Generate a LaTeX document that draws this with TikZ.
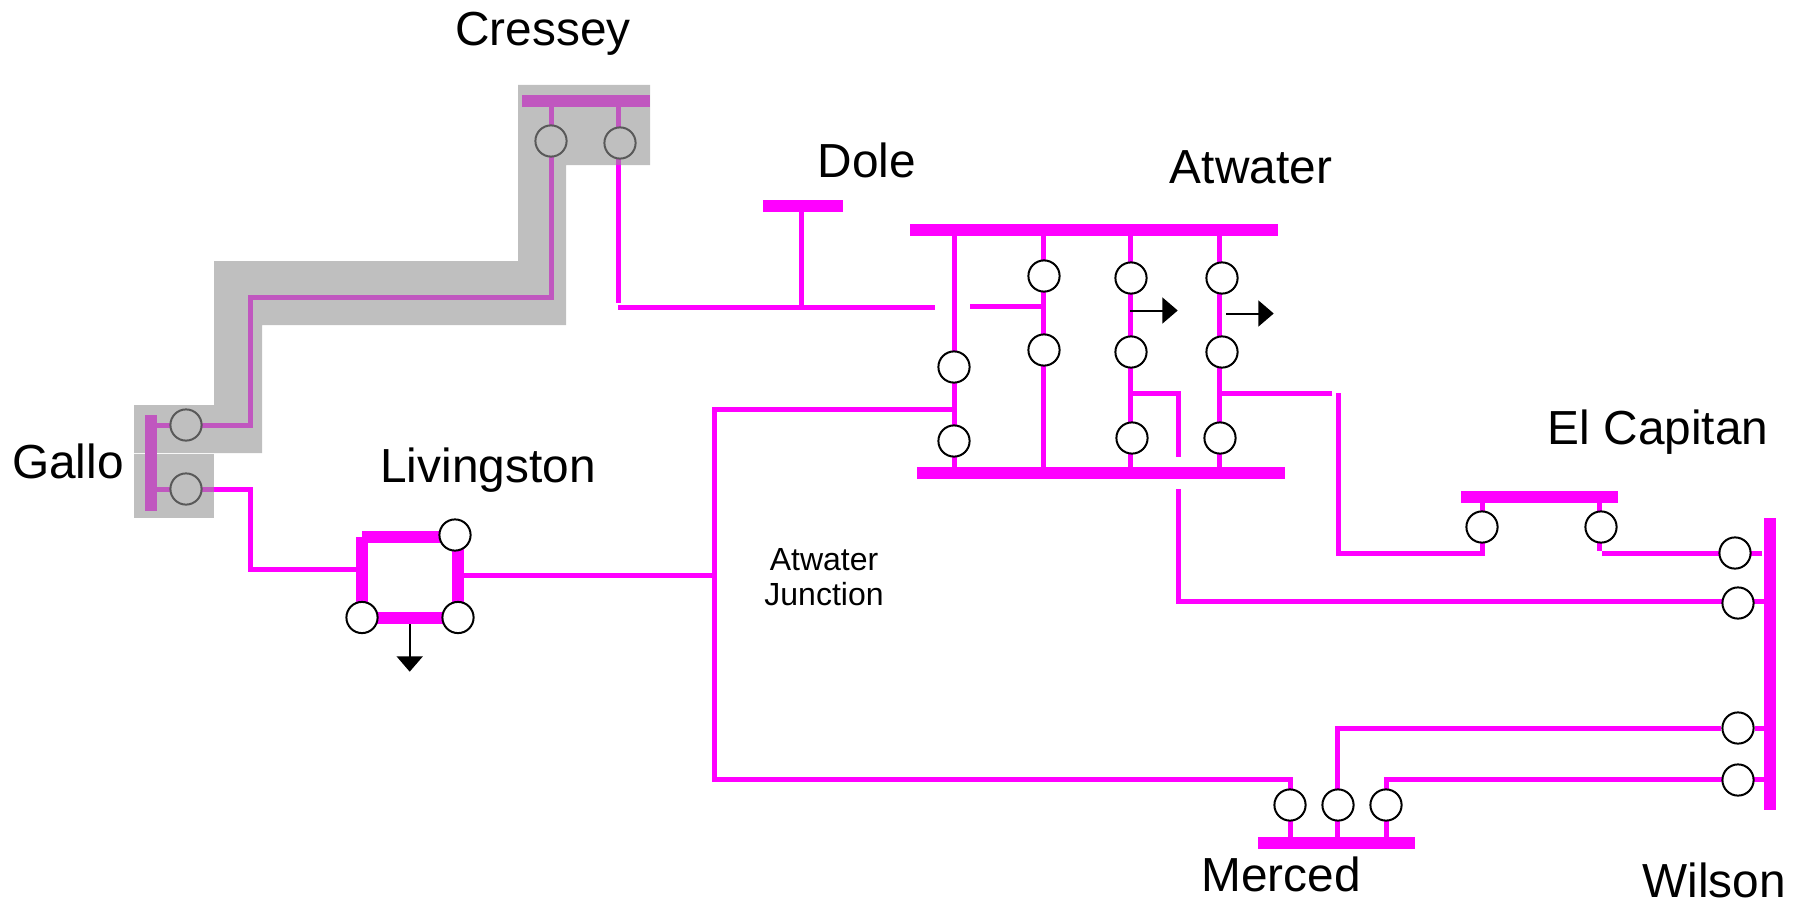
\documentclass[tikz,border=0pt]{standalone}
\usepackage{fontspec}
\setmainfont{Liberation Sans}
\usetikzlibrary{arrows.meta,backgrounds}
\definecolor{BusPink}{HTML}{FF00FF}
\definecolor{CutPink}{HTML}{C057BF}
\definecolor{CutGray}{HTML}{BFBFBF}
\definecolor{RingGray}{HTML}{595959}
\tikzset{
    bus/.style = {rectangle, fill=BusPink, inner sep=0pt},
    hbus/.style = {bus, minimum height=6pt, minimum width=#1*0.5pt},
    vbus/.style = {bus, minimum width=6pt, minimum height=#1*0.5pt},
    cutbus/.style = {fill=CutPink},
    breaker/.style = {draw, circle, fill=white, line width=1pt, inner sep=0pt, minimum size=15.6pt},
    cutbreaker/.style = {breaker, draw=RingGray, fill=CutGray},
    line/.style = {draw=BusPink, line width=2.5pt},
    cutline/.style = {draw=CutPink, line width=2.5pt},
    ring/.style = {draw=BusPink, line width=6pt},
    load/.style = {draw, line width=1pt, -{Triangle[length=7.7pt,width=13pt]}},
    bigtext/.style = {font=\fontsize{23.9}{28}\selectfont, inner sep=0pt},
    smalltext/.style = {font=\fontsize{16}{17.25}\selectfont, align=center}
}
\begin{document}
\begin{tikzpicture}[x=0.5pt,y=-0.5pt]
    \useasboundingbox (0,0) rectangle (1802,904);
    % substations
    \node (cressey) [hbus=128,cutbus] at (586,101) {};
    \node (dole) [hbus=80] at (803,206) {};
    \node (atwaterT) [hbus=368] at (1094,230) {};
    \node (atwaterB) [hbus=368] at (1101,473) {};
    \node (gallo) [vbus=96,cutbus] at (151,463) {};
    \node (elcapitan) [hbus=157] at (1539.5,497) {};
    \node (merced) [hbus=157] at (1336.5,843) {};
    \node (wilson) [vbus=292] at (1770,663.5) {};
    % breakers
    \node (c1) [cutbreaker] at (551,141) {};
    \node (c2) [cutbreaker] at (620,143) {};
    \node (g1) [cutbreaker] at (186,425) {};
    \node (g2) [cutbreaker] at (186,489) {};
    \node (l1) [breaker] at (455,535) {};
    \node (l2) [breaker] at (362,617.5) {};
    \node (l3) [breaker] at (458,617.5) {};
    \node (a1) [breaker] at (954,367) {};
    \node (a2) [breaker] at (954,441) {};
    \node (a3) [breaker] at (1044,276) {};
    \node (a4) [breaker] at (1044,350) {};
    \node (a5) [breaker] at (1131,278) {};
    \node (a6) [breaker] at (1131,352) {};
    \node (a7) [breaker] at (1132,438) {};
    \node (a8) [breaker] at (1222,278) {};
    \node (a9) [breaker] at (1222,352) {};
    \node (a10) [breaker] at (1220,438) {};
    \node (e1) [breaker] at (1482,527) {};
    \node (e2) [breaker] at (1601,527) {};
    \node (w1) [breaker] at (1735,553) {};
    \node (w2) [breaker] at (1738,603) {};
    \node (w3) [breaker] at (1738,728) {};
    \node (w4) [breaker] at (1738,780) {};
    \node (m1) [breaker] at (1290,805) {};
    \node (m2) [breaker] at (1338,805) {};
    \node (m3) [breaker] at (1386,805) {};
    % free ends and corners
    \coordinate (c1b) at (551.6,297);
    \coordinate (c1l) at (250,297);
    \coordinate (c1g) at (250,425);
    \coordinate (c2t) at (618,107);
    \coordinate (c2m) at (618,165);
    \coordinate (c2b) at (618,302.7);
    \coordinate (d0) at (618,307);
    \coordinate (d1) at (934.7,307);
    \coordinate (d2) at (970,306.5);
    \coordinate (d3) at (1043,306.5);
    \coordinate (dj) at (801,307);
    \coordinate (g2m) at (214,489);
    \coordinate (g2c) at (250,489);
    \coordinate (g2l) at (250,569);
    \coordinate (lw) at (356,569);
    \coordinate (le) at (458,575);
    \coordinate (lc) at (362,537);
    \coordinate (jn) at (714,575);
    \coordinate (jt) at (714,409);
    \coordinate (jb) at (714,779);
    \coordinate (jr) at (954,409);
    \coordinate (mr) at (1290,779);
    \coordinate (m3t) at (1386,779);
    \coordinate (m2t) at (1337,728);
    \coordinate (col1) at (954,350);
    \coordinate (col2) at (1043,350);
    \coordinate (col3) at (1130,393);
    \coordinate (col4) at (1219,393);
    \coordinate (s1) at (1178,393);
    \coordinate (s2) at (1178,457);
    \coordinate (s3) at (1178,489.3);
    \coordinate (s4) at (1178,601);
    \coordinate (t1) at (1332,393);
    \coordinate (t2) at (1338,393);
    \coordinate (t3) at (1338,553);
    \coordinate (e1b) at (1482,553);
    \coordinate (e2b) at (1599.5,550.5);
    \coordinate (e2t) at (1599.5,503);
    \coordinate (w0) at (1602,553);
    \coordinate (w1r) at (1761.5,553);
    \coordinate (w2l) at (1738,601);
    % load arrows
    \coordinate (p1) at (1130,310.5);
    \coordinate (p2) at (1177.7,310.5);
    \coordinate (p3) at (1226,313.5);
    \coordinate (p4) at (1273.7,313.5);
    \coordinate (p5) at (409.7,624);
    \coordinate (p6) at (409.7,671.7);
    \begin{pgfonlayer}{background}
        \fill[CutGray] (518,85) -- (650,85) -- (650,165) -- (566,165) -- (566,325) -- (262,325) -- (262,453) -- (134,453) -- (134,405) -- (214,405) -- (214,261) -- (518,261) -- cycle;
        \fill[CutGray] (134,454) rectangle (214,518);
        % lines inside the cut
        \draw[cutline] (c1b |- cressey) -- (c1b) -- (c1l) -- (c1g) -- (gallo.center |- c1g);
        \draw[cutline] (c2t) -- (c2m);
        \draw[cutline] (gallo.center |- g2) -- (g2m);
        % remaining lines
        \draw[line] (c2m) -- (c2b);
        \draw[line] (d0) -- (d1);
        \draw[line] (d2) -- (d3);
        \draw[line] (dj |- dole) -- (dj);
        \draw[line] (g2m) -- (g2c) -- (g2l) -- (lw);
        \draw[ring] (l2.center) -- (l2 |- lc);
        \draw[ring] (lc) -- (lc -| l1);
        \draw[ring] (l2.center) -- (l3.center);
        \draw[ring] (l3.center) -- (l3 |- l1);
        \draw[line] (le) -- (jn);
        \draw[line] (jr) -- (jt) -- (jb) -- (mr) -- (mr |- merced);
        \draw[line] (col1 |- atwaterT) -- (col1 |- atwaterB);
        \draw[line] (col2 |- atwaterT) -- (col2 |- atwaterB);
        \draw[line] (col3 |- atwaterT) -- (col3 |- atwaterB);
        \draw[line] (col4 |- atwaterT) -- (col4 |- atwaterB);
        \draw[line] (col3) -- (s1) -- (s2);
        \draw[line] (s3) -- (s4) -- (w2l);
        \draw[line] (col4) -- (t1);
        \draw[line] (t2) -- (t3) -- (e1b) -- (e1b |- elcapitan);
        \draw[line] (e2t) -- (e2b);
        \draw[line] (w0) -- (w1r);
        \draw[line] (w2l) -- (wilson.center |- w2l);
        \draw[line] (m2t |- merced) -- (m2t) -- (w3) -- (wilson.center |- w3);
        \draw[line] (m3 |- merced) -- (m3t) -- (wilson.center |- m3t);
    \end{pgfonlayer}
    \draw[load] (p1) -- (p2);
    \draw[load] (p3) -- (p4);
    \draw[load] (p5) -- (p6);
    % labels
    \node (tcressey) [bigtext,anchor=center] at (543,34) {Cressey};
    \node (tdole) [bigtext,anchor=center] at (867,160) {Dole};
    \node (tatwater) [bigtext,anchor=center] at (1251,167) {Atwater};
    \node (tgallo) [bigtext,anchor=center] at (68,461) {Gallo};
    \node (tlivingston) [bigtext,anchor=center] at (488,470) {Livingston};
    \node (telcapitan) [bigtext,anchor=center] at (1658,432) {El Capitan};
    \node (tmerced) [bigtext,anchor=center] at (1281,874) {Merced};
    \node (twilson) [bigtext,anchor=center] at (1714,880) {Wilson};
    \node (tjunction) [smalltext,anchor=center] at (824,577) {Atwater\\Junction};
\end{tikzpicture}
\end{document}
